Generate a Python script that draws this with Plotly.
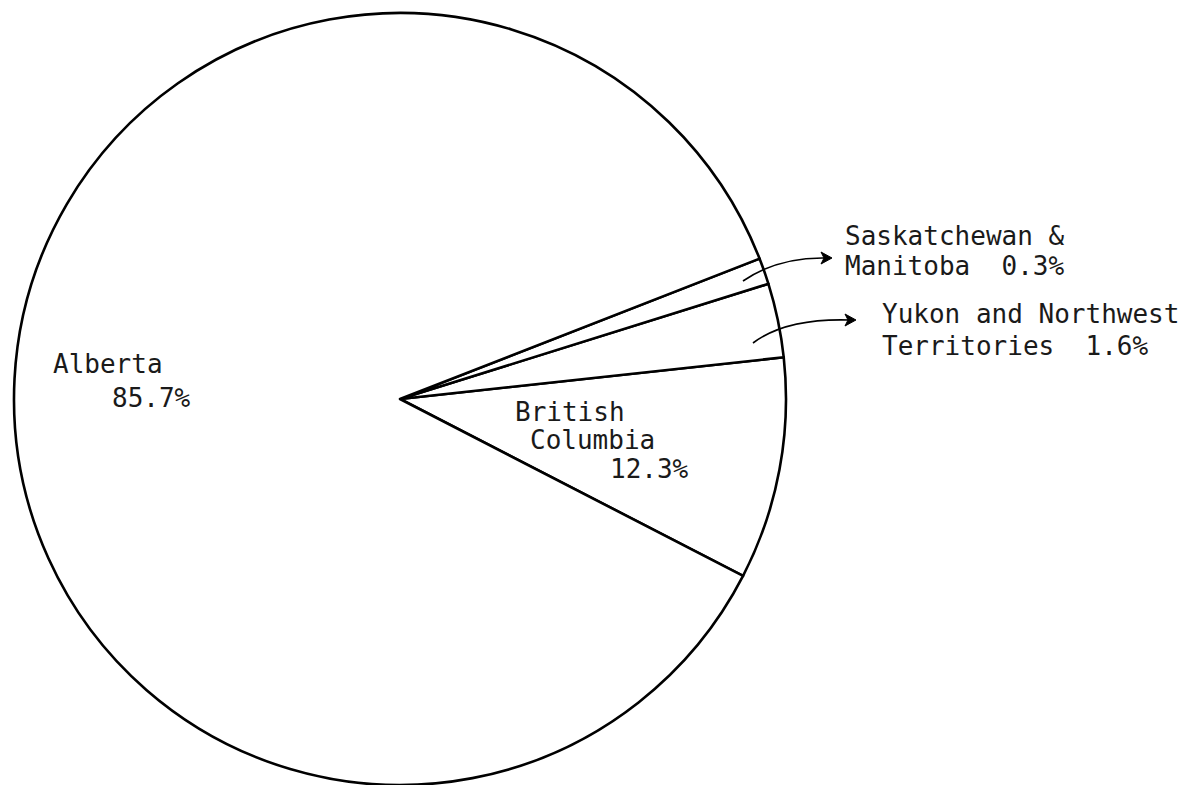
import plotly.graph_objects as go

# ---- data -------------------------------------------------------------
regions = ["British Columbia", "Yukon and Northwest Territories",
           "Saskatchewan & Manitoba", "Alberta"]
# wedge sizes as drawn in the figure (percent of circle)
drawn_share = [9.3, 3.1, 1.1, 86.5]
# percentages printed on the figure
printed_pct = ["12.3%", "1.6%", "0.3%", "85.7%"]

W, H = 1185, 785
NB = "\u00a0"

def px(x):
    return x / W

def py(y):
    return 1 - y / H

fig = go.Figure()
fig.add_trace(go.Pie(
    labels=regions,
    values=drawn_share,
    sort=False,
    direction="counterclockwise",
    rotation=83.8,
    textinfo="none",
    hoverinfo="label",
    marker=dict(colors=["white"] * 4, line=dict(color="black", width=2.6)),
    domain=dict(x=[px(400 - 387), px(400 + 387)], y=[0, py(13)]),
    showlegend=False,
))

FONT = dict(family="DejaVu Sans Mono", size=26, color="#1a1a1a")

# (text, left px, baseline px)
label_lines = [
    ("Saskatchewan" + NB + "&", 845, 245),
    ("Manitoba" + NB * 2 + printed_pct[2], 845, 275),
    ("Yukon" + NB + "and" + NB + "Northwest", 882, 323),
    ("Territories" + NB * 2 + printed_pct[1], 882, 355),
    ("Alberta", 53, 373),
    (printed_pct[3], 112, 407),
    ("British", 515, 421),
    ("Columbia", 530, 449),
    (printed_pct[0], 610, 478),
]
for txt, lx, base in label_lines:
    fig.add_annotation(
        text=txt, x=px(lx - 2), y=py(base - 9), xref="paper", yref="paper",
        xanchor="left", yanchor="middle", showarrow=False, font=FONT,
    )

def path(cmds):
    out = []
    for c in cmds:
        if isinstance(c, str):
            out.append(c)
        else:
            out.append(f"{px(c[0]):.5f},{py(c[1]):.5f}")
    return " ".join(out)

# curved pointer arrows
arrows = [
    ((743, 281), (778, 257), (826, 258)),
    ((753, 343), (786, 318), (850, 320)),
]
for p0, c, p2 in arrows:
    fig.add_shape(type="path", xref="paper", yref="paper",
                  path=path(["M", p0, "Q", c, p2]),
                  line=dict(color="black", width=1.6))
    tx, ty = p2[0] + 6, p2[1]
    fig.add_shape(type="path", xref="paper", yref="paper",
                  path=path(["M", (tx, ty), "L", (tx - 11, ty - 6), "L",
                             (tx - 8, ty), "L", (tx - 11, ty + 6), "Z"]),
                  line=dict(color="black", width=1), fillcolor="black")

fig.update_layout(
    width=W, height=H,
    margin=dict(l=0, r=0, t=0, b=0),
    paper_bgcolor="white", plot_bgcolor="white",
    showlegend=False,
)

fig.write_html("out.html")
